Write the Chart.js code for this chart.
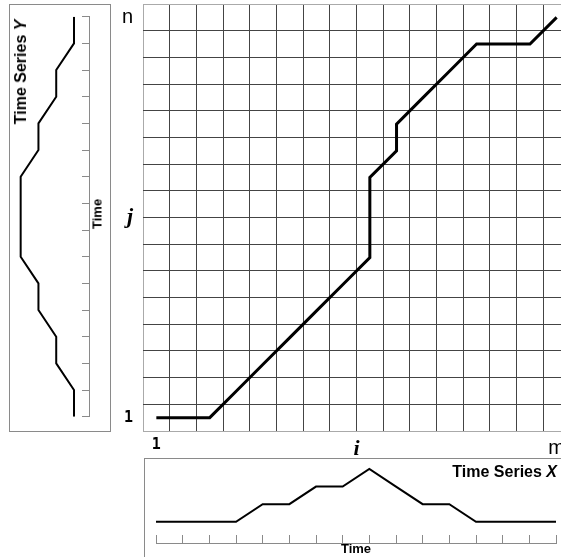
<!DOCTYPE html>
<html>
<head>
<meta charset="utf-8">
<script src="https://cdn.jsdelivr.net/npm/chart.js@4.4.1/dist/chart.umd.min.js"></script>
<style>
html, body { margin: 0; padding: 0; background: #fff; }
body { width: 561px; height: 557px; overflow: hidden; position: relative; font-family: "Liberation Sans", Arial, sans-serif; }
canvas, .box, .lbl { position: absolute; }
.box { box-sizing: border-box; border: 1px solid #8a8a8a; }
#boxY { left: 9px; top: 4px; width: 102px; height: 428px; }
#boxX { left: 144px; top: 458px; width: 450px; height: 150px; }
#chartY { left: 10px; top: 5px; }
#chartMain { left: 110px; top: 0px; }
#chartX { left: 145px; top: 459px; }
.lbl { white-space: nowrap; font-weight: bold; color: #000; line-height: 1; }
#titleY { left: 21px; top: 72px; font-size: 16px; transform: translate(-50%, -50%) rotate(-90deg); }
#timeY { left: 97px; top: 214px; font-size: 13px; transform: translate(-50%, -50%) rotate(-90deg); }
#titleX { right: 4px; top: 464px; font-size: 16px; }
</style>
</head>
<body>
<div class="box" id="boxY"></div>
<div class="box" id="boxX"></div>
<canvas id="chartY" width="99" height="425"></canvas>
<canvas id="chartMain" width="460" height="457"></canvas>
<canvas id="chartX" width="416" height="98"></canvas>
<div class="lbl" id="titleY">Time Series <i>Y</i></div>
<div class="lbl" id="timeY">Time</div>
<div class="lbl" id="titleX">Time Series <i>X</i></div>

<script>
// the two sequences (value per time step)
const seriesX = [0, 0, 0, 0, 1, 1, 2, 2, 3, 2, 1, 1, 0, 0, 0, 0];
const seriesY = [0, 0, 1, 1, 2, 2, 3, 3, 3, 3, 2, 2, 1, 1, 0, 0];

// warping path, 1-based cell indices (i along X, j along Y)
const pathI = [1, 2, 3, 4, 5, 6, 7, 8, 9, 9, 9, 9, 10, 10, 11, 12, 13, 14, 15, 16];
const pathJ = [1, 1, 1, 2, 3, 4, 5, 6, 7, 8, 9, 10, 11, 12, 13, 14, 15, 15, 15, 16];

// axis labels of the cost matrix and the index they sit at
const xTickLabels = ['1', 'i', 'm'];
const xTickIndex = [1, 8.5, 16];
const yTickLabels = ['1', 'j', 'n'];
const yTickIndex = [1, 8.5, 16];

const cells = seriesX.length;
const axisGrey = '#8a8a8a';

Chart.defaults.animation = false;
Chart.defaults.plugins.legend.display = false;
Chart.defaults.plugins.tooltip.enabled = false;
Chart.defaults.responsive = false;

function tickFont(label) {
    if (label === '1') return { family: '"DejaVu Sans Mono", monospace', weight: 'bold', size: 15 };
    if (label === 'i' || label === 'j') return { family: '"Liberation Serif", "Times New Roman", serif', weight: 'bold', style: 'italic', size: 22 };
    return { family: '"Liberation Sans", Arial, sans-serif', weight: 'normal', size: 20 };
}

function gridColor(ctx) {
    return (ctx.index === 0 || ctx.index === cells) ? '#aaaaaa' : '#444444';
}

// label axes should not push the grid around
function noPadding(s) {
    s.paddingTop = 0;
    s.paddingBottom = 0;
    s.paddingLeft = 0;
    s.paddingRight = 0;
}

// cost matrix with warping path
new Chart(document.getElementById('chartMain'), {
    type: 'scatter',
    data: {
        datasets: [{
            data: pathI.map((i, k) => ({ x: i - 0.5, y: pathJ[k] - 0.5 })),
            showLine: true,
            borderColor: '#000',
            borderWidth: 3,
            borderJoinStyle: 'miter',
            pointRadius: 0
        }]
    },
    options: {
        layout: { padding: { top: 4, left: 0, right: 0, bottom: 0 } },
        scales: {
            x: {
                type: 'linear', min: 0, max: cells, position: 'bottom',
                ticks: { display: false, stepSize: 1, autoSkip: false },
                grid: { color: gridColor, lineWidth: 1, drawTicks: false },
                border: { display: false },
                afterFit: s => { s.height = 0; noPadding(s); }
            },
            xl: {
                type: 'linear', min: 0, max: cells, position: 'bottom',
                grid: { display: false, drawTicks: false },
                border: { display: false },
                afterBuildTicks: s => { s.ticks = xTickIndex.map(v => ({ value: v - 0.5 })); },
                ticks: {
                    autoSkip: false, maxRotation: 0, padding: 5, color: '#000',
                    font: ctx => tickFont(xTickLabels[ctx.index]),
                    callback: (v, i) => xTickLabels[i]
                },
                afterFit: s => { s.height = 26; noPadding(s); }
            },
            y: {
                type: 'linear', min: 0, max: cells, position: 'left',
                ticks: { display: false, stepSize: 1, autoSkip: false },
                grid: { color: gridColor, lineWidth: 1, drawTicks: false },
                border: { display: false },
                afterFit: s => { s.width = 0; noPadding(s); }
            },
            yl: {
                type: 'linear', min: 0, max: cells, position: 'left',
                grid: { display: false, drawTicks: false },
                border: { display: false },
                afterBuildTicks: s => { s.ticks = yTickIndex.map(v => ({ value: v - 0.5 })); },
                ticks: {
                    autoSkip: false, padding: 10, color: '#000',
                    font: ctx => tickFont(yTickLabels[ctx.index]),
                    callback: (v, i) => yTickLabels[i]
                },
                afterFit: s => { s.width = 33; noPadding(s); }
            }
        }
    }
});

// time series Y, drawn sideways (time upwards, value to the left)
new Chart(document.getElementById('chartY'), {
    type: 'scatter',
    data: {
        datasets: [{
            data: seriesY.map((v, k) => ({ x: v, y: k })),
            showLine: true,
            borderColor: '#000',
            borderWidth: 2,
            pointRadius: 0
        }]
    },
    options: {
        layout: { padding: { top: 11.7, bottom: 13.3, left: 0, right: 0 } },
        scales: {
            x: { type: 'linear', display: false, min: -0.844, max: 3.6, reverse: true },
            y: {
                type: 'linear', position: 'right', min: 0, max: seriesY.length - 1,
                ticks: { display: false, stepSize: 1, autoSkip: false },
                grid: { drawOnChartArea: false, tickLength: -7, color: axisGrey },
                border: { color: axisGrey },
                afterFit: s => { s.width = 20; }
            }
        }
    }
});

// time series X
new Chart(document.getElementById('chartX'), {
    type: 'scatter',
    data: {
        datasets: [{
            data: seriesX.map((v, k) => ({ x: k, y: v })),
            showLine: true,
            borderColor: '#000',
            borderWidth: 2,
            pointRadius: 0
        }]
    },
    options: {
        layout: { padding: { top: 0, bottom: 0, left: 11, right: 5 } },
        scales: {
            x: {
                type: 'linear', position: 'bottom', min: 0, max: seriesX.length - 1,
                ticks: { display: false, stepSize: 1, autoSkip: false },
                grid: { drawOnChartArea: false, tickLength: -8, color: axisGrey },
                border: { color: axisGrey },
                title: {
                    display: true, text: 'Time', color: '#000', padding: 0,
                    font: { family: '"Liberation Sans", Arial, sans-serif', weight: 'bold', size: 13 }
                },
                afterFit: s => { s.height = 14; }
            },
            y: { type: 'linear', display: false, min: -1.21, max: 3.57 }
        }
    }
});
</script>
</body>
</html>
